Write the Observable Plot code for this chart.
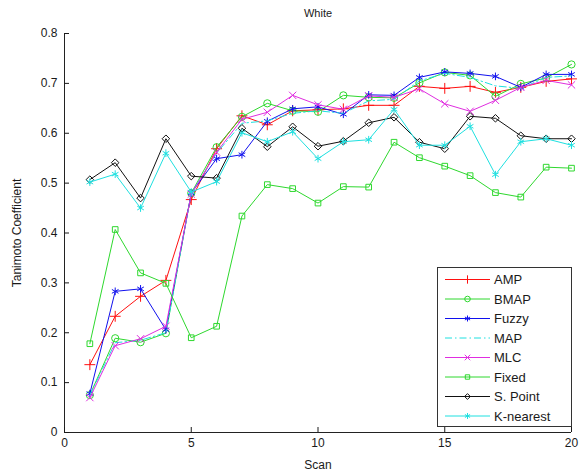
<!DOCTYPE html>
<html><head><meta charset="utf-8">
<script src="https://cdn.jsdelivr.net/npm/d3@7"></script>
<script src="https://cdn.jsdelivr.net/npm/@observablehq/plot@0.6"></script>
<style>
body{margin:0;background:#fff}
#chart{position:relative;width:581px;height:471px}
</style>
</head><body><div id="chart"></div>
<script>
// ---- data ----
const scans = [1,2,3,4,5,6,7,8,9,10,11,12,13,14,15,16,17,18,19,20];
const seriesNames = ["AMP","BMAP","Fuzzy","MAP","MLC","Fixed","S. Point","K-nearest"];
const ampValues      = [0.136,0.233,0.273,0.305,0.467,0.569,0.635,0.617,0.645,0.647,0.649,0.656,0.656,0.694,0.690,0.694,0.682,0.692,0.704,0.709];
const bmapValues     = [0.075,0.189,0.181,0.199,0.480,0.572,0.633,0.660,0.645,0.643,0.676,0.672,0.671,0.701,0.722,0.716,0.674,0.699,0.711,0.738];
const fuzzyValues    = [0.078,0.283,0.288,0.206,0.480,0.549,0.557,0.624,0.649,0.653,0.638,0.677,0.676,0.712,0.723,0.720,0.714,0.692,0.718,0.718];
const mapValues      = [0.075,0.180,0.185,0.200,0.480,0.560,0.620,0.625,0.640,0.645,0.640,0.665,0.668,0.705,0.720,0.712,0.695,0.690,0.712,0.715];
const mlcValues      = [0.070,0.174,0.188,0.213,0.478,0.562,0.628,0.642,0.676,0.657,0.648,0.675,0.672,0.689,0.659,0.644,0.666,0.692,0.706,0.697];
const fixedValues    = [0.178,0.407,0.320,0.299,0.190,0.213,0.434,0.497,0.489,0.460,0.493,0.492,0.582,0.551,0.534,0.515,0.481,0.472,0.532,0.530];
const sPointValues   = [0.507,0.541,0.470,0.589,0.514,0.510,0.610,0.573,0.613,0.574,0.584,0.621,0.632,0.582,0.569,0.634,0.630,0.595,0.589,0.589];
const kNearestValues = [0.502,0.518,0.450,0.560,0.482,0.503,0.601,0.583,0.603,0.549,0.583,0.587,0.648,0.576,0.576,0.614,0.517,0.583,0.589,0.576];
const xTicks = [0,5,10,15,20];
const yTicks = [0,0.1,0.2,0.3,0.4,0.5,0.6,0.7,0.8];
const titleText = "White";
const xLabel = "Scan";
const yLabel = "Tanimoto Coefficient";

// ---- styles ----
const valuesBySeries = [ampValues,bmapValues,fuzzyValues,mapValues,mlcValues,fixedValues,sPointValues,kNearestValues];
const styles = {
  "AMP":       {color:"#ff1010", symbol:"plus",     r:3.6},
  "BMAP":      {color:"#2ed82e", symbol:"circle",   r:3.6},
  "Fuzzy":     {color:"#1010ee", symbol:"asterisk", r:3.6},
  "MAP":       {color:"#1ee0e0", symbol:null,       r:0, dash:"7,3,1.5,3"},
  "MLC":       {color:"#e02ee0", symbol:"times",    r:3.4},
  "Fixed":     {color:"#2ed82e", symbol:"square2",  r:3.6},
  "S. Point":  {color:"#111111", symbol:"diamond2", r:3.4},
  "K-nearest": {color:"#1ee0e0", symbol:"asterisk", r:3.6}
};
const rows = seriesNames.flatMap((name,i) => scans.map((s,j) => ({series:name, scan:s, value:valuesBySeries[i][j]})));

const marks = [
  Plot.ruleX([0], {stroke:"#222"}),
  Plot.ruleY([0], {stroke:"#222"}),
  Plot.axisX({ticks:xTicks, tickSize:-5, tickPadding:11, tickFormat:d=>String(d), label:xLabel, labelAnchor:"center", labelOffset:36, labelArrow:"none", fontSize:12}),
  Plot.axisY({ticks:yTicks, tickSize:-5, tickPadding:12, tickFormat:d=>d===0?"0":d3.format(".1f")(d), label:yLabel, labelAnchor:"center", labelOffset:52, labelArrow:"none", fontSize:12}),
  Plot.text([titleText], {text:d=>d, frameAnchor:"top", dy:-24, fontSize:11})
];
seriesNames.forEach(name => {
  const d = rows.filter(r => r.series === name);
  const st = styles[name];
  marks.push(Plot.line(d, {x:"scan", y:"value", stroke:st.color, strokeWidth:1, strokeDasharray:st.dash}));
  if (st.symbol) marks.push(Plot.dot(d, {x:"scan", y:"value", stroke:st.color, fill:"none", symbol:st.symbol, r:st.r, strokeWidth:1}));
});

const chart = Plot.plot({
  width:581, height:471,
  marginTop:33, marginBottom:39, marginLeft:64, marginRight:10,
  x:{domain:[0,20]},
  y:{domain:[0,0.8]},
  style:{fontFamily:"'Liberation Sans', Arial, sans-serif", fontSize:"12px", color:"#1a1a1a", background:"#fff"},
  marks
});
document.getElementById("chart").appendChild(chart);

// ---- legend (drawn into the same svg) ----
const symbolTypes = {plus:d3.symbolPlus, circle:d3.symbolCircle, asterisk:d3.symbolAsterisk, times:d3.symbolTimes, square2:d3.symbolSquare2, diamond2:d3.symbolDiamond2};
const svg = d3.select(chart);
const lg = svg.append("g").attr("font-family","'Liberation Sans', Arial, sans-serif").attr("font-size",13).attr("text-anchor","start");
const box = {x:437.5, y:267.5, w:134, h:159, row0:279.5, step:19.5};
lg.append("rect").attr("x",box.x).attr("y",box.y).attr("width",box.w).attr("height",box.h).attr("fill","#fff").attr("stroke","#333");
seriesNames.slice().reverse().forEach(name => {
  const i = seriesNames.indexOf(name);
  const st = styles[name];
  const cy = box.row0 + i*box.step;
  const row = lg.append("g").attr("stroke",st.color);
  row.append("path").attr("d",`M445,${cy}H490`).attr("fill","none").attr("stroke",st.color).attr("stroke-width",1).attr("stroke-dasharray",st.dash||null);
  if (st.symbol) row.append("path").attr("transform",`translate(467.5,${cy})`).attr("d",d3.symbol(symbolTypes[st.symbol], Math.PI*(st.r-0.8)*(st.r-0.8))()).attr("fill","none").attr("stroke",st.color);
  lg.append("text").attr("x",494).attr("y",cy).attr("dy","0.36em").attr("text-anchor","start").attr("fill","#1a1a1a").text(name);
});
</script>
</body></html>
